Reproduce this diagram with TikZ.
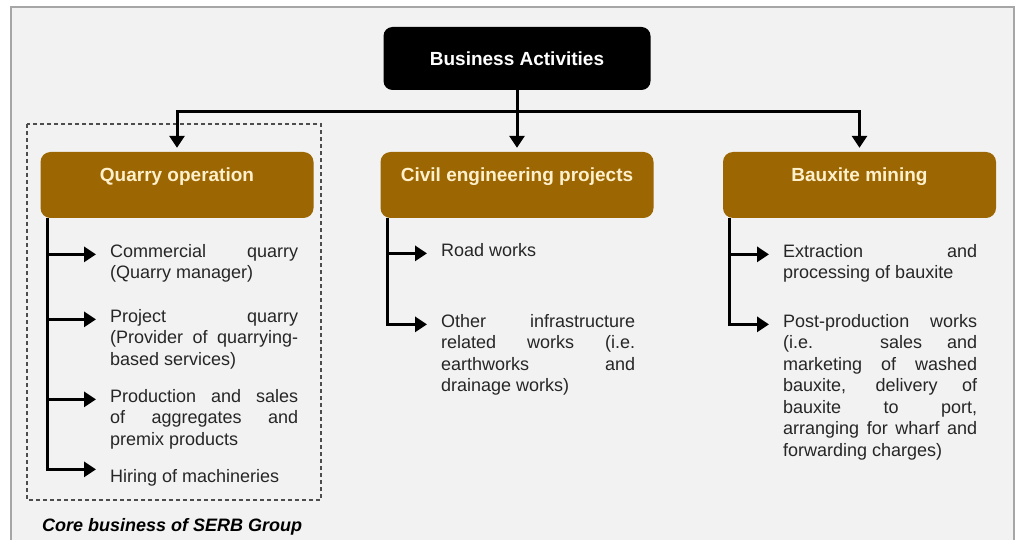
\documentclass[tikz,border=0pt]{standalone}
\usepackage{fontspec}
\setmainfont{Liberation Sans}
\usetikzlibrary{arrows.meta}
\definecolor{panel}{HTML}{F2F2F2}
\definecolor{rim}{HTML}{A6A6A6}
\definecolor{ochre}{HTML}{9C6602}
\definecolor{cream}{HTML}{FFF0CC}
\definecolor{dashgray}{HTML}{4D4D4D}
\tikzstyle{topbox}   = [shape=rectangle,rounded corners=9pt,fill=black,text=white,minimum width=267pt,minimum height=63pt,inner sep=0pt,font=\fontsize{19}{22}\selectfont\bfseries]
\tikzstyle{unitbox}  = [shape=rectangle,rounded corners=10pt,fill=ochre,text=cream,minimum width=273pt,inner sep=0pt,text height=30pt,text depth=36pt,font=\fontsize{19}{22}\selectfont\bfseries]
\tikzstyle{itemtext} = [anchor=base west,inner sep=0pt,align=justify,text=black!85,font=\fontsize{18}{21.5}\selectfont]
\tikzstyle{bar}      = [line width=3pt]
\tikzstyle{feed}     = [line width=3pt,-{Triangle[width=15pt,length=12pt]}]

\begin{document}
\begin{tikzpicture}[x=1pt,y=-1pt]
  \useasboundingbox (0,0) rectangle (1017,540);
  \fill[white] (0,0) rectangle (1017,540);
  \draw[rim,fill=panel,line width=1.5pt] (11,7) rectangle (1014,541);

  % Core business frame
  \draw[dashgray,line width=1.2pt,dash pattern=on 4pt off 3pt] (27,124) rectangle (321,500);
  \node[anchor=west,inner sep=0pt,font=\fontsize{18}{21.5}\selectfont\bfseries\itshape] (core) at (42,527) {Core business of SERB Group};

  % Tree head
  \node[topbox] (act) at (517,58.5) {Business Activities};
  \node[unitbox] (qo) at (177,185) {Quarry operation};
  \node[unitbox] (ce) at (517,185) {Civil engineering projects};
  \node[unitbox] (bm) at (859.5,185) {Bauxite mining};
  \coordinate (split) at (517,112);
  \draw[bar] (act.south) -- (split);
  \foreach \u in {qo,ce,bm} \draw[feed,shorten >=4pt] (split) -| (\u.north);

  % Quarry operation
  \node[itemtext,text width=188pt] (q1) at (110,257) {Commercial quarry\linebreak (Quarry manager)};
  \node[itemtext,text width=188pt] (q2) at (110,322) {Project quarry\linebreak (Provider of quarrying-\linebreak based services)};
  \node[itemtext,text width=188pt] (q3) at (110,402) {Production and sales\linebreak of aggregates and\linebreak premix products};
  \node[itemtext,text width=188pt] (q4) at (110,482) {Hiring of machineries};
  \coordinate (qs) at ([xshift=7pt]qo.south west);
  \foreach \i in {1,2,3} \draw[feed] (qs |- q\i.mid west) -- ([xshift=-14pt]q\i.mid west);
  \draw[feed] (qs) |- ([xshift=-14pt,yshift=10pt]q4.mid west);

  % Civil engineering projects
  \node[itemtext,text width=194pt] (c1) at (441,256) {Road works};
  \node[itemtext,text width=194pt] (c2) at (441,327) {Other infrastructure\linebreak related works (i.e.\linebreak earthworks and\linebreak drainage works)};
  \coordinate (cs) at ([xshift=7pt]ce.south west);
  \draw[feed] (cs |- c1.mid west) -- ([xshift=-14pt]c1.mid west);
  \draw[feed] (cs) |- ([xshift=-14pt]c2.mid west);

  % Bauxite mining
  \node[itemtext,text width=194pt] (b1) at (783,257) {Extraction and\linebreak processing of bauxite};
  \node[itemtext,text width=194pt] (b2) at (783,327) {Post-production works\linebreak (i.e. sales and\linebreak marketing of washed\linebreak bauxite, delivery of\linebreak bauxite to port,\linebreak arranging for wharf and\linebreak forwarding charges)};
  \coordinate (bs) at ([xshift=7pt]bm.south west);
  \draw[feed] (bs |- b1.mid west) -- ([xshift=-14pt]b1.mid west);
  \draw[feed] (bs) |- ([xshift=-14pt]b2.mid west);
\end{tikzpicture}
\end{document}
